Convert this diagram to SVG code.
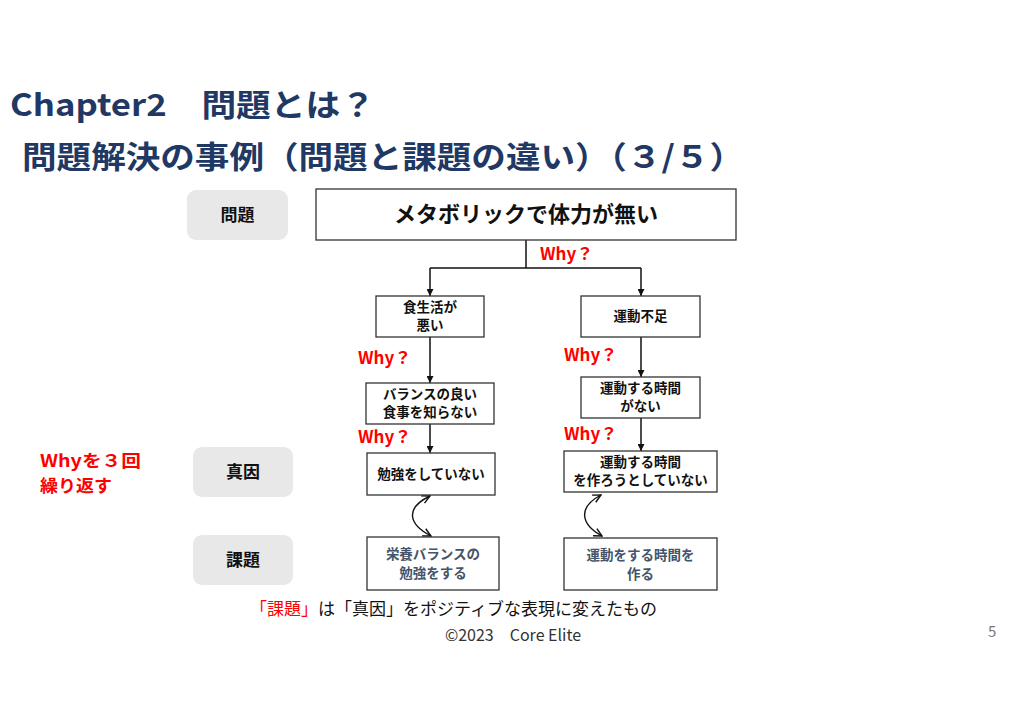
<svg xmlns="http://www.w3.org/2000/svg" width="1024" height="724" viewBox="0 0 1024 724">
<defs>
<style>
text{font-family:"Noto Sans CJK JP","Noto Sans",sans-serif;}
.title{font-size:31px;font-weight:bold;fill:#1F3864;}
.lab{fill:#E8E8E8;}
.labt{font-size:17px;font-weight:bold;fill:#111;text-anchor:middle;}
.box{fill:#fff;stroke:#333;stroke-width:1.3;}
.bt{font-size:13.5px;font-weight:bold;fill:#111;text-anchor:middle;}
.kt{font-size:13.5px;font-weight:bold;fill:#44546A;text-anchor:middle;}
.why{font-size:17px;font-weight:bold;fill:#FF0000;}
.rep{font-size:17px;font-weight:bold;fill:#FF0000;}
.ln{fill:none;stroke:#111;stroke-width:1.5;}
.cv{fill:none;stroke:#111;stroke-width:1.4;}
</style>
<marker id="ah" viewBox="0 0 10 10" refX="10" refY="5" markerWidth="7" markerHeight="7" orient="auto" markerUnits="userSpaceOnUse">
<path d="M0,0 L10,5 L0,10 z" fill="#111"/>
</marker>
<marker id="oa" viewBox="0 0 10 10" refX="9" refY="5" markerWidth="10" markerHeight="10" orient="auto-start-reverse" markerUnits="userSpaceOnUse">
<path d="M1,1 L9,5 L1,9" fill="none" stroke="#111" stroke-width="1.4"/>
</marker>
</defs>
<rect width="1024" height="724" fill="#fff"/>
<g id="title">
<text class="title" x="10" y="116" textLength="365" lengthAdjust="spacingAndGlyphs">Chapter2　問題とは？</text>
<text class="title" x="22" y="168" textLength="722" lengthAdjust="spacingAndGlyphs">問題解決の事例（問題と課題の違い）（３/５）</text>
</g>
<g id="label-mondai"><rect class="lab" x="187" y="190" width="101" height="50" rx="9"/><text class="labt" x="237.5" y="221">問題</text></g>
<g id="label-shinin"><rect class="lab" x="193" y="447" width="100" height="50" rx="9"/><text class="labt" x="243" y="478">真因</text></g>
<g id="label-kadai"><rect class="lab" x="193" y="535" width="100" height="50" rx="9"/><text class="labt" x="243" y="566">課題</text></g>
<g id="repeat"><text class="rep" x="40" y="467" textLength="101" lengthAdjust="spacingAndGlyphs">Whyを３回</text><text class="rep" x="40" y="492" textLength="72" lengthAdjust="spacingAndGlyphs">繰り返す</text></g>
<g id="connectors">
<path class="ln" d="M526,240 V268"/>
<path class="ln" d="M430,268 H641"/>
<path class="ln" d="M430,268 V296" marker-end="url(#ah)"/>
<path class="ln" d="M641,268 V296" marker-end="url(#ah)"/>
<path class="ln" d="M430,337 V383" marker-end="url(#ah)"/>
<path class="ln" d="M430,424 V453" marker-end="url(#ah)"/>
<path class="ln" d="M641,337 V377" marker-end="url(#ah)"/>
<path class="ln" d="M641,418 V451" marker-end="url(#ah)"/>
<path class="cv" d="M430,496 C405,508 408,524 431,536" marker-start="url(#oa)" marker-end="url(#oa)"/>
<path class="cv" d="M601,495 C578,507 580,524 602,536" marker-start="url(#oa)" marker-end="url(#oa)"/>
<text class="why" x="540" y="260">Why？</text>
<text class="why" x="358" y="364">Why？</text>
<text class="why" x="358" y="443">Why？</text>
<text class="why" x="564" y="361">Why？</text>
<text class="why" x="564" y="440">Why？</text>
</g>
<g id="n-main"><rect class="box" x="316" y="189" width="420" height="51"/><text x="526" y="222" style="font-size:22px;font-weight:bold;fill:#111;text-anchor:middle">メタボリックで体力が無い</text></g>
<g id="n-shoku"><rect class="box" x="376" y="296" width="108" height="41"/><text class="bt" x="430" y="312">食生活が</text><text class="bt" x="430" y="330">悪い</text></g>
<g id="n-undo"><rect class="box" x="581" y="296" width="119" height="41"/><text class="bt" x="640.5" y="321">運動不足</text></g>
<g id="n-balance"><rect class="box" x="366" y="383" width="128" height="41"/><text class="bt" x="430" y="399">バランスの良い</text><text class="bt" x="430" y="417">食事を知らない</text></g>
<g id="n-jikan"><rect class="box" x="581" y="377" width="119" height="41"/><text class="bt" x="640.5" y="393">運動する時間</text><text class="bt" x="640.5" y="411">がない</text></g>
<g id="n-benkyo"><rect class="box" x="367" y="453" width="128" height="42"/><text class="bt" x="431" y="479">勉強をしていない</text></g>
<g id="n-tsukuro"><rect class="box" x="564" y="451" width="153" height="41"/><text class="bt" x="640.5" y="467">運動する時間</text><text class="bt" x="640.5" y="485">を作ろうとしていない</text></g>
<g id="n-eiyo"><rect class="box" x="367" y="537" width="132" height="53"/><text class="kt" x="433" y="559">栄養バランスの</text><text class="kt" x="433" y="578">勉強をする</text></g>
<g id="n-tsukuru"><rect class="box" x="564" y="538" width="153" height="52"/><text class="kt" x="640.5" y="560">運動をする時間を</text><text class="kt" x="640.5" y="579">作る</text></g>
<g id="footer">
<text x="250" y="615" style="font-size:17px;fill:#111"><tspan fill="#FF0000">「課題」</tspan>は「真因」をポジティブな表現に変えたもの</text>
<text x="513" y="641" style="font-size:16px;fill:#333;text-anchor:middle">©2023　Core Elite</text>
<text x="988" y="637" style="font-size:15px;fill:#777">5</text>
</g>
</svg>
